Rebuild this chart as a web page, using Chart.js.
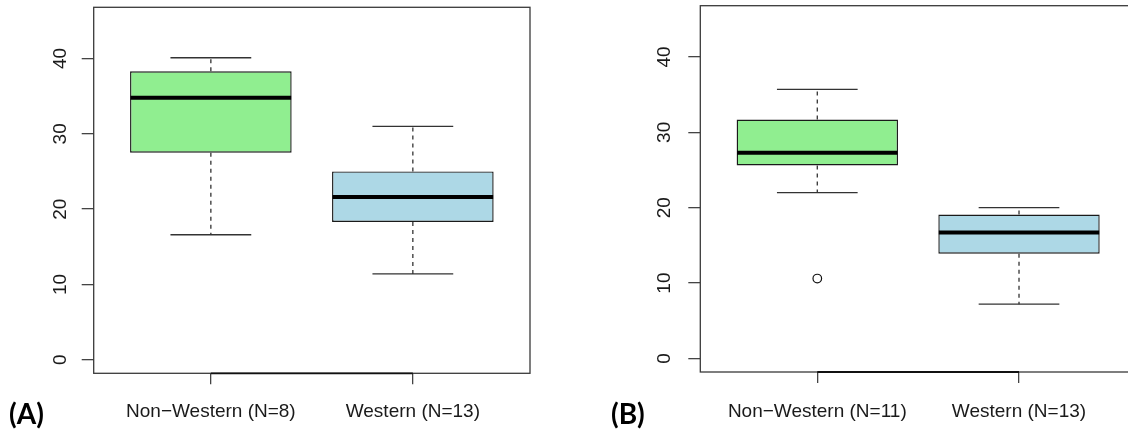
<!DOCTYPE html>
<html>
<head>
<meta charset="utf-8">
<script src="https://cdn.jsdelivr.net/npm/chart.js@4.4.1/dist/chart.umd.min.js"></script>
<style>
  html, body { margin: 0; padding: 0; background: #ffffff; }
  body { width: 1128px; height: 431px; overflow: hidden; position: relative; }
  .panel { position: absolute; top: 0; }
  .tag { position: absolute; font-family: "Lato", "Open Sans", sans-serif; font-weight: 700; font-size: 28px; color: #000; line-height: 1; }
</style>
</head>
<body>
<div class="panel" style="left:0px;"><canvas id="chartA" width="564" height="431"></canvas></div>
<div class="panel" style="left:564px;"><canvas id="chartB" width="600" height="431"></canvas></div>
<div class="tag" style="left:9px; top:399px;">(A)</div>
<div class="tag" style="left:611px; top:399px;">(B)</div>
<script>
// ---- data ----
const categoriesA = ['Non\u2212Western (N=8)', 'Western (N=13)'];
const lowerA  = [16.6, 11.4];
const q1A     = [27.5, 18.3];
const medianA = [34.8, 21.6];
const q3A     = [38.3, 25.0];
const upperA  = [40.1, 31.0];
const outliersA = [[], []];

const categoriesB = ['Non\u2212Western (N=11)', 'Western (N=13)'];
const lowerB  = [22.0, 7.2];
const q1B     = [25.6, 13.9];
const medianB = [27.3, 16.7];
const q3B     = [31.7, 19.1];
const upperB  = [35.7, 20.0];
const outliersB = [[10.6], []];

const boxColors = ['#90EE90', '#ADD8E6'];
const yTicks = [0, 10, 20, 30, 40];
const yLimits = [-1.8, 46.8];
const xLimits = [0.42, 2.58];

const FONT = '"Liberation Sans", Arial, sans-serif';

// plugin: frame, whiskers, caps, medians drawn through the chart scales
const boxPlugin = {
  id: 'rbox',
  afterDatasetsDraw(chart, args, s) {
    if (!s || !s.cat) return;
    const xs = chart.scales.x, ys = chart.scales.y;
    const ctx = chart.ctx;
    ctx.save();
    for (let i = 0; i < s.cat.length; i++) {
      const pos = i + 1;
      const xc = xs.getPixelForValue(pos);
      const capL = xs.getPixelForValue(pos - 0.2), capR = xs.getPixelForValue(pos + 0.2);
      const boxL = xs.getPixelForValue(pos - 0.4), boxR = xs.getPixelForValue(pos + 0.4);
      ctx.strokeStyle = '#333';
      ctx.lineWidth = 1.3;
      ctx.setLineDash([4, 4]);
      ctx.beginPath();
      ctx.moveTo(xc, ys.getPixelForValue(s.q3[i]));
      ctx.lineTo(xc, ys.getPixelForValue(s.upper[i]));
      ctx.moveTo(xc, ys.getPixelForValue(s.q1[i]));
      ctx.lineTo(xc, ys.getPixelForValue(s.lower[i]));
      ctx.stroke();
      ctx.setLineDash([]);
      ctx.beginPath();
      ctx.moveTo(capL, ys.getPixelForValue(s.upper[i]));
      ctx.lineTo(capR, ys.getPixelForValue(s.upper[i]));
      ctx.moveTo(capL, ys.getPixelForValue(s.lower[i]));
      ctx.lineTo(capR, ys.getPixelForValue(s.lower[i]));
      ctx.stroke();
      ctx.strokeStyle = '#000';
      ctx.lineWidth = 4;
      ctx.beginPath();
      ctx.moveTo(boxL + 0.5, ys.getPixelForValue(s.median[i]));
      ctx.lineTo(boxR - 0.5, ys.getPixelForValue(s.median[i]));
      ctx.stroke();
    }
    const a = chart.chartArea;
    ctx.strokeStyle = '#3a3a3a';
    ctx.lineWidth = 1.3;
    ctx.strokeRect(a.left, a.top, a.right - a.left, a.bottom - a.top);
    ctx.strokeStyle = '#111';
    ctx.lineWidth = 1.8;
    ctx.beginPath();
    ctx.moveTo(xs.getPixelForValue(1), a.bottom);
    ctx.lineTo(xs.getPixelForValue(s.cat.length), a.bottom);
    ctx.stroke();
    ctx.restore();
  }
};

function makeChart(id, cats, lower, q1, med, q3, upper, outliers, geo) {
  const boxData = cats.map((c, i) => ({ x: i + 1, y: [q1[i], q3[i]] }));
  const outData = [];
  outliers.forEach((arr, i) => arr.forEach(v => outData.push({ x: i + 1, y: v })));
  return new Chart(document.getElementById(id), {
    type: 'bar',
    data: {
      datasets: [
        {
          data: boxData,
          backgroundColor: boxColors,
          borderColor: '#1a1a1a',
          borderWidth: 1.4,
          borderSkipped: false,
          categoryPercentage: 1.0,
          barPercentage: 0.8
        },
        {
          type: 'scatter',
          data: outData,
          pointRadius: 4.3,
          pointBackgroundColor: 'rgba(0,0,0,0)',
          pointBorderColor: '#111',
          pointBorderWidth: 1.2
        }
      ]
    },
    options: {
      responsive: false,
      animation: false,
      devicePixelRatio: 1,
      layout: { padding: { left: geo.padL, right: geo.padR, top: geo.padT, bottom: 0 } },
      plugins: {
        legend: { display: false },
        tooltip: { enabled: false },
        rbox: { cat: cats, lower: lower, q1: q1, median: med, q3: q3, upper: upper }
      },
      scales: {
        x: {
          type: 'linear',
          offset: false,
          min: xLimits[0], max: xLimits[1],
          afterBuildTicks: (sc) => { sc.ticks = cats.map((c, i) => ({ value: i + 1 })); },
          afterFit: (sc) => { sc.height = geo.xH; sc.paddingLeft = 0; sc.paddingRight = 0; sc.paddingTop = 0; sc.paddingBottom = 0; },
          ticks: {
            callback: (v) => cats[Math.round(v) - 1],
            font: { family: FONT, size: 19 },
            color: '#1a1a1a',
            padding: geo.xPad,
            maxRotation: 0, minRotation: 0,
            autoSkip: false
          },
          grid: { offset: false, drawOnChartArea: false, drawTicks: true, tickLength: 11, color: '#444', lineWidth: 1.3 },
          border: { display: false }
        },
        y: {
          type: 'linear',
          min: yLimits[0], max: yLimits[1],
          afterBuildTicks: (sc) => { sc.ticks = yTicks.map(v => ({ value: v })); },
          afterFit: (sc) => { sc.width = geo.yW; sc.paddingTop = 0; sc.paddingBottom = 0; sc.paddingLeft = 0; sc.paddingRight = 0; },
          ticks: {
            font: { family: FONT, size: 19 },
            color: '#1a1a1a',
            padding: geo.yPad,
            minRotation: 90, maxRotation: 90,
            crossAlign: 'center',
            autoSkip: false
          },
          grid: { drawOnChartArea: false, drawTicks: true, tickLength: 12, color: '#444', lineWidth: 1.3 },
          border: { display: false }
        }
      }
    },
    plugins: [boxPlugin]
  });
}

makeChart('chartA', categoriesA, lowerA, q1A, medianA, q3A, upperA, outliersA,
  { padL: 33.7, padR: 34, padT: 7.3, xH: 57.7, yW: 60, yPad: 10.4, xPad: 16 });
makeChart('chartB', categoriesB, lowerB, q1B, medianB, q3B, upperB, outliersB,
  { padL: 76.3, padR: 28, padT: 5.7, xH: 59, yW: 60, yPad: 12.7, xPad: 17 });
</script>
</body>
</html>
